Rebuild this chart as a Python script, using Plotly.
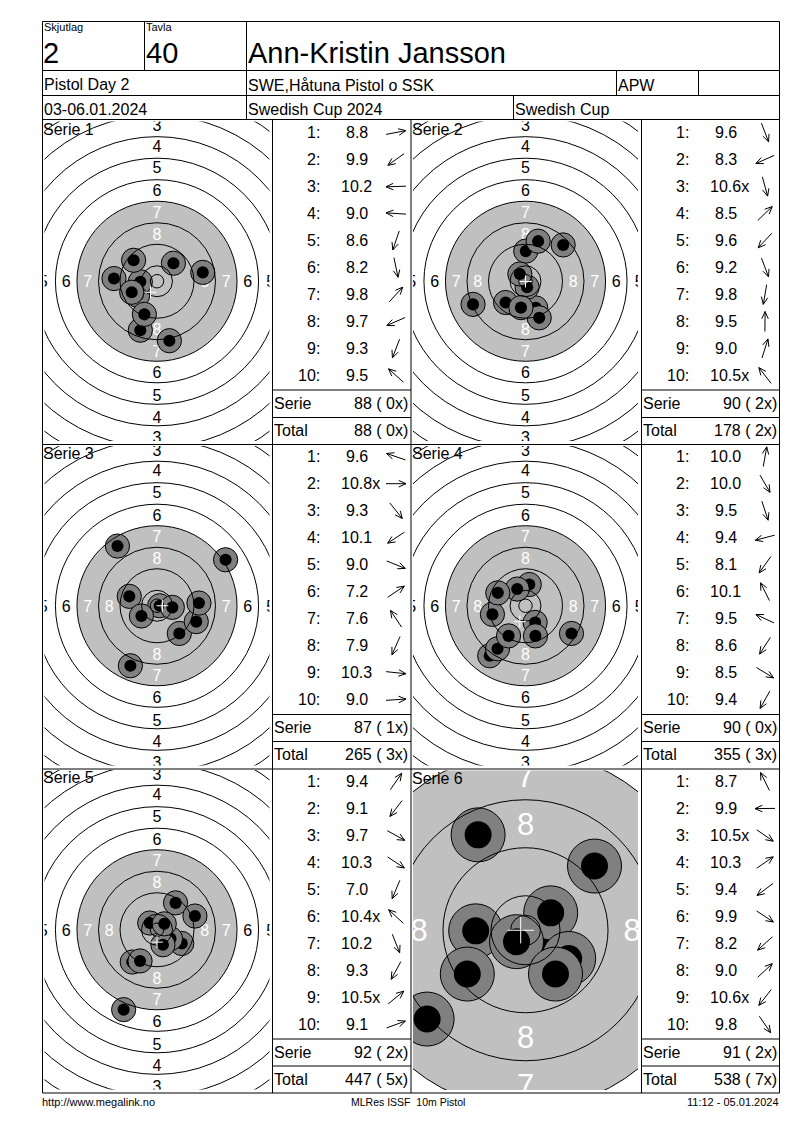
import math

import plotly.graph_objects as go

# header texts
round_no = "2"
lane_no = "40"
shooter = "Ann-Kristin Jansson"
event = "Pistol Day 2"
club = "SWE,Håtuna Pistol o SSK"
team_class = "APW"
dates = "03-06.01.2024"
match_name = "Swedish Cup 2024"
cup_name = "Swedish Cup"
footer_left = "http://www.megalink.no"
footer_mid = "MLRes ISSF  10m Pistol"
footer_right = "11:12 - 05.01.2024"

# one entry per series
series_names = ["Serie 1", "Serie 2", "Serie 3", "Serie 4", "Serie 5", "Serie 6"]
series_sums = ["88 ( 0x)", "90 ( 2x)", "87 ( 1x)", "90 ( 0x)", "92 ( 2x)", "91 ( 2x)"]
running_totals = ["88 ( 0x)", "178 ( 2x)", "265 ( 3x)", "355 ( 3x)", "447 ( 5x)", "538 ( 7x)"]

scores = [
    ["8.8", "9.9", "10.2", "9.0", "8.6", "8.2", "9.8", "9.7", "9.3", "9.5"],
    ["9.6", "8.3", "10.6x", "8.5", "9.6", "9.2", "9.8", "9.5", "9.0", "10.5x"],
    ["9.6", "10.8x", "9.3", "10.1", "9.0", "7.2", "7.6", "7.9", "10.3", "9.0"],
    ["10.0", "10.0", "9.5", "9.4", "8.1", "10.1", "9.5", "8.6", "8.5", "9.4"],
    ["9.4", "9.1", "9.7", "10.3", "7.0", "10.4x", "10.2", "9.3", "10.5x", "9.1"],
    ["8.7", "9.9", "10.5x", "10.3", "9.4", "9.9", "8.2", "9.0", "10.6x", "9.8"],
]

# shot positions on the target in mm from the centre, in shooting order
shot_x = [
    [17.0, -7.2, -6.2, -16.0, -6.2, 4.6, 6.1, -9.4, -4.7, -8.7],
    [3.8, -19.5, 0.6, 14.0, -7.4, 5.1, -1.7, 0.1, 4.7, -2.1],
    [-10.3, 1.0, 8.3, -5.8, 14.6, 25.5, -14.7, -9.9, 5.7, 15.6],
    [1.4, 3.6, 3.7, -12.3, -13.3, -3.1, -10.3, -10.4, 17.1, -6.3],
    [6.9, -9.2, 9.2, 5.0, -12.4, -2.7, 2.2, -6.3, 2.7, 14.1],
    [-7.9, -8.3, 2.6, 4.2, -9.7, 7.2, -16.4, 11.5, -1.5, 5.0],
]
shot_y = [
    [3.3, -5.2, -0.2, 1.0, -18.2, -22.1, 6.7, -4.1, -12.3, 7.8],
    [-9.9, -8.6, -2.2, 13.5, -7.9, -13.6, -9.8, 11.2, 14.9, 2.7],
    [3.5, 0.0, -10.3, -3.8, -5.9, 17.1, 22.2, -22.3, -0.6, 1.0],
    [7.9, -6.2, -11.2, -3.2, -18.6, 6.2, 4.8, -16.0, -10.3, -11.2],
    [10.0, -12.0, -5.1, -3.3, -29.7, 2.5, -5.6, -11.6, 2.2, 5.1],
    [15.9, -0.1, -1.8, 2.9, -7.3, -4.7, -14.8, 10.7, -1.9, -7.3],
]

# white cross: mean point of impact
cross_x = [-2.4, 0.0, 2.0, -2.1, 0.0, -0.8]
cross_y = [-4.1, -0.1, 0.0, -5.9, -4.6, 0.0]

# 10m air pistol target, ring radii in mm (inner ten first)
ring_radii = [2.5, 5.75, 13.75, 21.75, 29.75, 37.75, 45.75, 53.75, 61.75, 69.75, 77.75]
ring_numbers = [8, 7, 6, 5, 4, 3]
ring_label_radii = [17.75, 25.75, 33.75, 42.3, 50.3, 58.0]
black_radius = 29.75
shot_radius = 2.25

FONT = "Liberation Sans"
GREY_LIGHT = "#c0c0c0"
GREY_DARK = "#808080"

page_w = 800
page_h = 1130

# series panels: px/mm on the target, pixel box of the target, left of score column
panel_scale = [2.69, 2.69, 2.69, 2.69, 2.69, 6.0]
panel_left = [44.5, 413, 44.5, 413, 44.5, 413]
panel_top = [121.5, 121.5, 446, 446, 770, 770.5]
panel_w = 225
panel_h = 319.5
table_left = [272.5, 641.5, 272.5, 641.5, 272.5, 641.5]
row_top = [132.5, 132.5, 456.7, 456.7, 781.5, 781.5]
row_step = 27

fig = go.Figure()
shapes = []
annotations = []


def add_line(x0, y0, x1, y1):
    shapes.append(dict(type="line", xref="x", yref="y", x0=x0, y0=y0, x1=x1, y1=y1,
                       line=dict(color="black", width=1)))


def add_text(x, y, text, size, anchor="left"):
    annotations.append(dict(xref="x", yref="y", x=x, y=y, text=text, showarrow=False,
                            xanchor=anchor, yanchor="middle", borderpad=0,
                            font=dict(family=FONT, size=size, color="black")))


# frame of the sheet
for y in [21.5, 70.5, 95.5, 119.5, 444.5, 769, 1093]:
    add_line(42.5, y, 779.5, y)
for x in [42.5, 779.5]:
    add_line(x, 21.5, x, 1093)
add_line(144.5, 21.5, 144.5, 70.5)
add_line(246.5, 21.5, 246.5, 119.5)
add_line(616.5, 70.5, 616.5, 95.5)
add_line(698.5, 70.5, 698.5, 95.5)
add_line(513.5, 95.5, 513.5, 119.5)
for x in [272.5, 411, 641.5]:
    add_line(x, 119.5, x, 1093)
for y in [390, 417.5, 714.5, 741.5, 1039, 1066]:
    add_line(272.5, y, 411, y)
    add_line(641.5, y, 779.5, y)

# header
add_text(42.5, 26.5, "Skjutlag", 11)
add_text(144.5, 26.5, "Tavla", 11)
add_text(42, 53, round_no, 29)
add_text(144.5, 53, lane_no, 29)
add_text(246.5, 53, shooter, 29)
add_text(43, 84, event, 16)
add_text(247, 85, club, 16)
add_text(617, 85, team_class, 16)
add_text(42.5, 109, dates, 16)
add_text(247, 109, match_name, 16)
add_text(514, 109, cup_name, 16)

# footer
add_text(41, 1102, footer_left, 11)
add_text(407.5, 1102, footer_mid, 10.5, "center")
add_text(780, 1102, footer_right, 11, "right")

layout_axes = dict(
    xaxis=dict(domain=[0, 1], range=[0, page_w], visible=False),
    yaxis=dict(domain=[0, 1], range=[page_h, 0], visible=False),
)

arrow_x = []
arrow_y = []

for i, name in enumerate(series_names):
    s = panel_scale[i]
    ax = str(i + 2)
    xref = "x" + ax
    yref = "y" + ax
    half_w = panel_w / 2 / s
    half_h = panel_h / 2 / s

    layout_axes["xaxis" + ax] = dict(
        domain=[panel_left[i] / page_w, (panel_left[i] + panel_w) / page_w],
        range=[-half_w, half_w], visible=False, anchor=yref,
    )
    layout_axes["yaxis" + ax] = dict(
        domain=[1 - (panel_top[i] + panel_h) / page_h, 1 - panel_top[i] / page_h],
        range=[-half_h, half_h], visible=False, anchor=xref,
    )

    # aiming black, printed grey on the sheet
    shapes.append(dict(type="circle", xref=xref, yref=yref, layer="below",
                       x0=-black_radius, y0=-black_radius, x1=black_radius, y1=black_radius,
                       fillcolor=GREY_LIGHT, line=dict(width=0)))

    # ring numbers on the four sides, only those that reach into the box
    label_x = []
    label_y = []
    label_text = []
    label_color = []
    nudge = (2 if s < 3 else 3) / s  # text sits a bit high in plotly
    for number, r in zip(ring_numbers, ring_label_radii):
        for dx, dy in [(0, 1), (0, -1), (-1, 0), (1, 0)]:
            if abs(dx * r) > half_w + 1 or abs(dy * r) > half_h + 1:
                continue
            label_x.append(dx * r)
            label_y.append(dy * r - nudge)
            label_text.append(str(number))
            label_color.append("white" if number >= 7 else "black")
    fig.add_trace(go.Scatter(
        x=label_x, y=label_y, text=label_text, mode="text", xaxis=xref, yaxis=yref,
        textposition="middle center", cliponaxis=True, hoverinfo="skip",
        textfont=dict(family=FONT, size=16 if s < 3 else 31, color=label_color),
    ))

    # every shot is a grey disc with a black hole, later shots cover earlier ones
    mark_x = []
    mark_y = []
    mark_size = []
    mark_color = []
    mark_line = []
    for x, y in zip(shot_x[i], shot_y[i]):
        mark_x += [x, x]
        mark_y += [y, y]
        mark_size += [4 * shot_radius * s, 2 * shot_radius * s]
        mark_color += [GREY_DARK, "black"]
        mark_line += [1, 0]
    fig.add_trace(go.Scatter(
        x=mark_x, y=mark_y, mode="markers", xaxis=xref, yaxis=yref, cliponaxis=True,
        hoverinfo="skip",
        marker=dict(size=mark_size, color=mark_color, opacity=1,
                    line=dict(color="black", width=mark_line)),
    ))

    # scoring rings go over the shots
    for r in ring_radii:
        shapes.append(dict(type="circle", xref=xref, yref=yref, layer="above",
                           x0=-r, y0=-r, x1=r, y1=r,
                           line=dict(color="black", width=1)))

    arm = 2.2
    for x0, y0, x1, y1 in [(-arm, 0, arm, 0), (0, -arm, 0, arm)]:
        shapes.append(dict(type="line", xref=xref, yref=yref, layer="above",
                           x0=cross_x[i] + x0, y0=cross_y[i] + y0,
                           x1=cross_x[i] + x1, y1=cross_y[i] + y1,
                           line=dict(color="white", width=1)))

    add_text(panel_left[i] - 2.5, panel_top[i] + 7.5, name, 16)

    # score column
    col = table_left[i]
    for n, score in enumerate(scores[i]):
        row_y = row_top[i] + n * row_step
        add_text(col + 48, row_y, f"{n + 1}:", 16, "right")
        add_text(col + 84 + (4 if score.endswith("x") else 0), row_y, score, 16, "center")

        # direction arrow follows the shot position
        angle = math.atan2(shot_y[i][n], shot_x[i][n])
        ux = math.cos(angle)
        uy = -math.sin(angle)
        cx = col + 123.5
        tip = (cx + 10 * ux, row_y + 10 * uy)
        tail = (cx - 10 * ux, row_y - 10 * uy)
        arrow_x += [tail[0], tip[0], None]
        arrow_y += [tail[1], tip[1], None]
        for side in [-1, 1]:
            a = math.atan2(uy, ux) + math.pi + side * 0.42
            arrow_x += [tip[0], tip[0] + 8 * math.cos(a), None]
            arrow_y += [tip[1], tip[1] + 8 * math.sin(a), None]

    add_text(col, row_top[i] + 271, "Serie", 16)
    add_text(col, row_top[i] + 298, "Total", 16)
    add_text(col + 136, row_top[i] + 271, series_sums[i], 16, "right")
    add_text(col + 136, row_top[i] + 298, running_totals[i], 16, "right")

fig.add_trace(go.Scatter(
    x=arrow_x, y=arrow_y, mode="lines", xaxis="x", yaxis="y", hoverinfo="skip",
    line=dict(color="black", width=1),
))

fig.update_layout(
    autosize=False, width=page_w, height=page_h, showlegend=False,
    margin=dict(l=0, r=0, t=0, b=0),
    paper_bgcolor="white", plot_bgcolor="rgba(0,0,0,0)",
    shapes=shapes, annotations=annotations, **layout_axes,
)

fig.write_html("out.html", config={"displayModeBar": False},
               post_script="document.body.style.margin='0';")
